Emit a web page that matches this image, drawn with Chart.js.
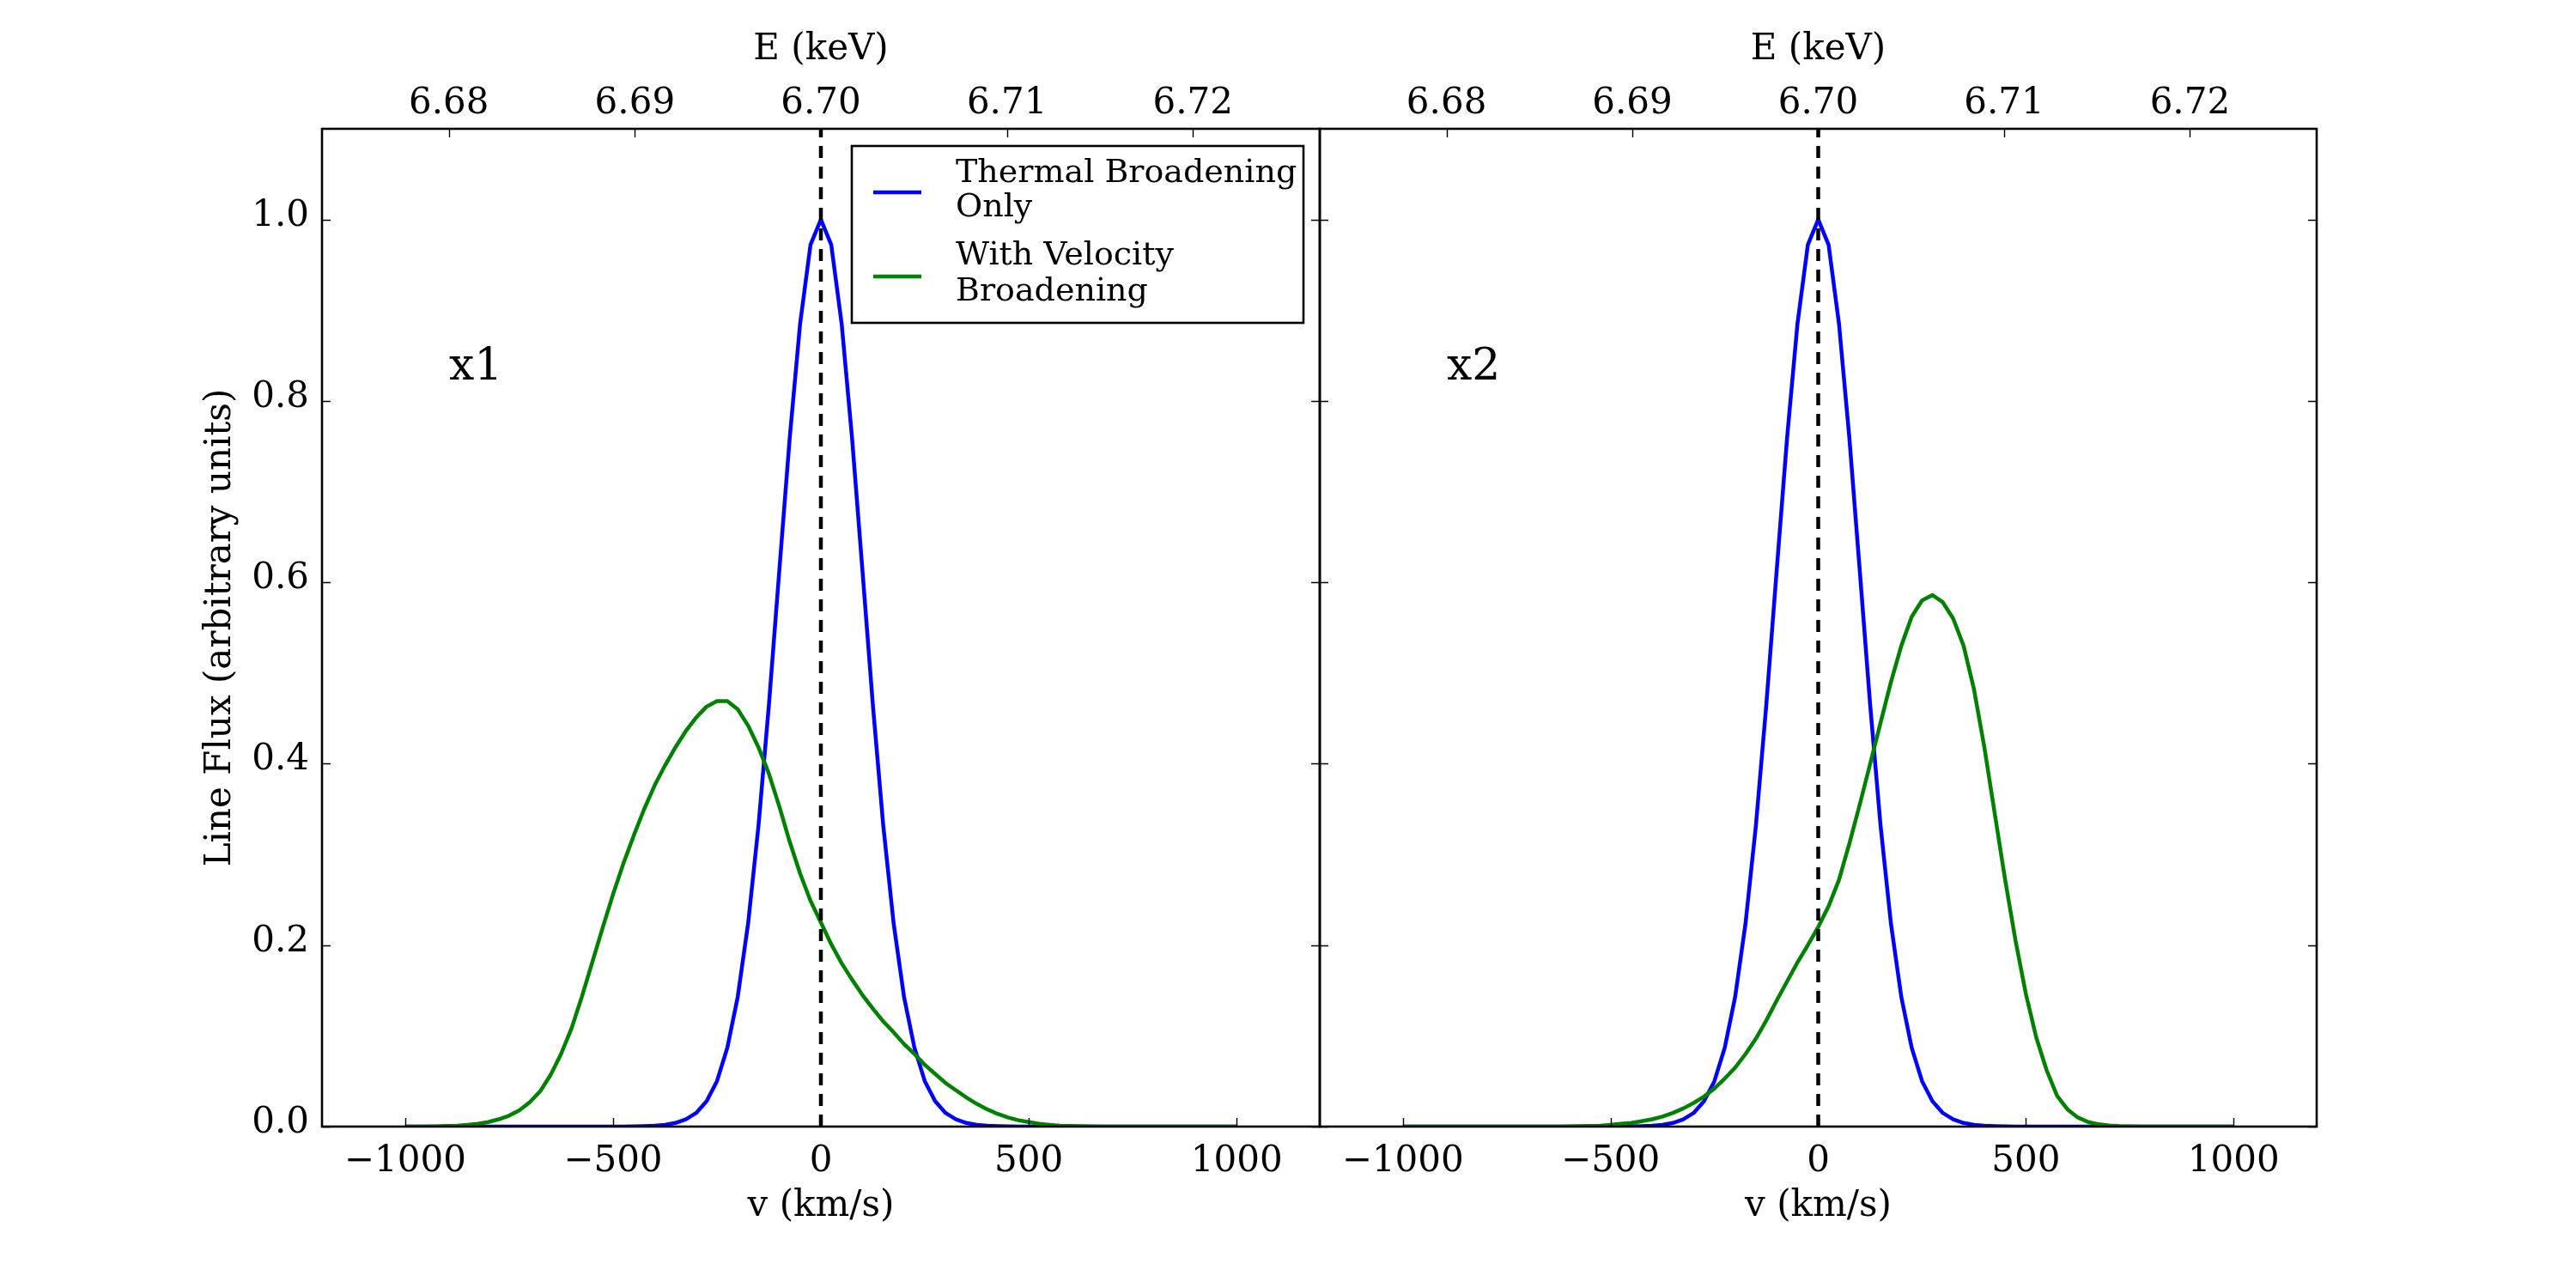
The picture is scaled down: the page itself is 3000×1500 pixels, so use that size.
<!DOCTYPE html>
<html lang="en">
<head>
  <meta charset="UTF-8">
  <title>Fe XXV line profiles - x1 / x2</title>
  <style>
    body {
      margin: 0;
      background: #fff;
    }
    .wrap {
      position: relative;
      width: 3000px;
      height: 1500px;
    }
    .wrap canvas {
      position: absolute;
      left: 0;
      top: 0;
    }
  </style>
</head>
<body>
<div class="wrap">
  <canvas id="panelX1" width="3000" height="1500"></canvas>
  <canvas id="panelX2" width="3000" height="1500"></canvas>
</div>

<script src="https://cdn.jsdelivr.net/npm/chart.js"></script>
<script>
  // velocity grid (km/s)
  const velocity = [
    -1000, -975, -950, -925, -900, -875, -850, -825, -800, -775,
    -750, -725, -700, -675, -650, -625, -600, -575, -550, -525,
    -500, -475, -450, -425, -400, -375, -350, -325, -300, -275,
    -250, -225, -200, -175, -150, -125, -100, -75, -50, -25,
    0,
    25, 50, 75, 100, 125, 150, 175, 200, 225, 250,
    275, 300, 325, 350, 375, 400, 425, 450, 475, 500,
    525, 550, 575, 600, 625, 650, 675, 700, 725, 750,
    775, 800, 825, 850, 875, 900, 925, 950, 975, 1000
  ];

  // thermal broadening only (same in both panels)
  const thermal = [
    0, 0, 0, 0, 0, 0, 0, 0, 0, 0,
    0, 0, 0, 0, 0, 0, 0, 0, 0, 0,
    0, 0, 0.0002, 0.0005, 0.001, 0.002, 0.004, 0.008, 0.015, 0.028,
    0.050, 0.087, 0.143, 0.224, 0.332, 0.465, 0.613, 0.759, 0.885, 0.972,
    1.000,
    0.972, 0.885, 0.759, 0.613, 0.465, 0.332, 0.224, 0.143, 0.087, 0.050,
    0.028, 0.015, 0.008, 0.004, 0.002, 0.001, 0.0005, 0.0002, 0, 0,
    0, 0, 0, 0, 0, 0, 0, 0, 0, 0,
    0, 0, 0, 0, 0, 0, 0, 0, 0, 0
  ];

  // with velocity broadening, panel x1
  const velocityX1 = [
    0, 0, 0, 0.0003, 0.0006, 0.001, 0.002, 0.003, 0.005, 0.008,
    0.012, 0.018, 0.027, 0.039, 0.057, 0.080, 0.108, 0.143, 0.181, 0.219,
    0.256, 0.290, 0.321, 0.350, 0.376, 0.398, 0.418, 0.436, 0.451, 0.463,
    0.469, 0.469, 0.460, 0.442, 0.418, 0.389, 0.353, 0.314, 0.279, 0.249,
    0.225,
    0.201, 0.180, 0.162, 0.145, 0.130, 0.116, 0.104, 0.091, 0.080, 0.068,
    0.058, 0.048, 0.040, 0.032, 0.025, 0.019, 0.014, 0.010, 0.007, 0.005,
    0.003, 0.002, 0.001, 0.0007, 0.0004, 0.0002, 0, 0, 0, 0,
    0, 0, 0, 0, 0, 0, 0, 0, 0, 0
  ];

  // with velocity broadening, panel x2
  const velocityX2 = [
    0, 0, 0, 0, 0, 0, 0, 0, 0, 0,
    0, 0, 0, 0, 0, 0, 0.0003, 0.0005, 0.0008, 0.001,
    0.002, 0.003, 0.004, 0.006, 0.008, 0.011, 0.015, 0.020, 0.026, 0.033,
    0.042, 0.053, 0.065, 0.080, 0.097, 0.117, 0.139, 0.160, 0.181, 0.200,
    0.220,
    0.243, 0.272, 0.312, 0.355, 0.400, 0.445, 0.490, 0.530, 0.562, 0.580,
    0.586, 0.578, 0.560, 0.530, 0.482, 0.418, 0.345, 0.272, 0.205, 0.146,
    0.098, 0.062, 0.034, 0.019, 0.010, 0.005, 0.0025, 0.0012, 0.0005, 0.0002,
    0, 0, 0, 0, 0, 0, 0, 0, 0, 0
  ];

  // dashed line at line centre
  const centreV = [0, 0];
  const centreFlux = [0, 1.1];

  const seriesNames = ['Thermal Broadening Only', 'With Velocity Broadening'];
  const legendLabels = [['Thermal Broadening', 'Only'], ['With Velocity', 'Broadening']];
  const panelNames = ['x1', 'x2'];

  const vTicks = [-1000, -500, 0, 500, 1000];
  const eTicks = [6.68, 6.69, 6.70, 6.71, 6.72];
  const fluxTicks = [0, 0.2, 0.4, 0.6, 0.8, 1.0];

  const V_MIN = -1200, V_MAX = 1200, FLUX_MAX = 1.1;
  const E0 = 6.7, C_KMS = 299792.458;

  const FONT = "'DejaVu Serif', serif";

  // inward ticks, frame, panel label and legend
  const panelPlugin = {
    id: 'panel',
    afterDraw(chart, args, o) {
      const { ctx, chartArea: a, scales } = chart;
      ctx.save();
      ctx.strokeStyle = '#000';
      ctx.lineWidth = 1.4;
      ctx.beginPath();
      vTicks.forEach(v => {
        const x = Math.round(scales.x.getPixelForValue(v)) + 0.5;
        ctx.moveTo(x, a.bottom);
        ctx.lineTo(x, a.bottom - 10);
      });
      eTicks.forEach(e => {
        const x = Math.round(scales.e.getPixelForValue(e)) + 0.5;
        ctx.moveTo(x, a.top);
        ctx.lineTo(x, a.top + 10);
      });
      fluxTicks.forEach(f => {
        const y = Math.round(scales.y.getPixelForValue(f)) + 0.5;
        ctx.moveTo(a.left, y);
        ctx.lineTo(a.left + 10, y);
        ctx.moveTo(a.right, y);
        ctx.lineTo(a.right - 10, y);
      });
      ctx.stroke();

      ctx.lineWidth = 2.6;
      ctx.strokeRect(a.left, a.top, a.right - a.left, a.bottom - a.top);

      ctx.fillStyle = '#000';
      ctx.textAlign = 'left';
      ctx.textBaseline = 'alphabetic';
      ctx.font = '52px ' + FONT;
      ctx.fillText(o.label, a.left + 148, a.top + 292);

      if (o.legend) {
        const bx = a.right - 545, by = a.top + 20, bw = 526, bh = 206;
        ctx.fillStyle = '#fff';
        ctx.fillRect(bx, by, bw, bh);
        ctx.lineWidth = 2.6;
        ctx.strokeRect(bx, by, bw, bh);
        const colors = ['#0000ff', '#008000'];
        const lineY = [54, 152];
        const textY = [[42, 82], [138, 180]];
        ctx.font = '38px ' + FONT;
        legendLabels.forEach((lines, k) => {
          ctx.strokeStyle = colors[k];
          ctx.lineWidth = 4.5;
          ctx.beginPath();
          ctx.moveTo(bx + 25, by + lineY[k]);
          ctx.lineTo(bx + 81, by + lineY[k]);
          ctx.stroke();
          ctx.fillStyle = '#000';
          lines.forEach((t, j) => ctx.fillText(t, bx + 121, by + textY[k][j]));
        });
      }
      ctx.restore();
    }
  };

  function fmtV(v) {
    return v < 0 ? '\u2212' + Math.abs(v) : String(v);
  }

  function makePanel(id, profile, label, isLeft) {
    const toPoints = (xs, ys) => xs.map((x, i) => ({ x: x, y: ys[i] }));
    const tickFont = { family: FONT, size: 42 };
    return new Chart(document.getElementById(id), {
      type: 'line',
      data: {
        datasets: [
          {
            label: 'line centre',
            data: toPoints(centreV, centreFlux),
            borderColor: '#000',
            borderWidth: 4.5,
            borderDash: [14, 10],
            pointRadius: 0
          },
          {
            label: seriesNames[1],
            data: toPoints(velocity, profile),
            borderColor: '#008000',
            borderWidth: 4.5,
            pointRadius: 0
          },
          {
            label: seriesNames[0],
            data: toPoints(velocity, thermal),
            borderColor: '#0000ff',
            borderWidth: 4.5,
            pointRadius: 0
          }
        ]
      },
      options: {
        responsive: false,
        animation: false,
        events: [],
        layout: {
          padding: isLeft
            ? { left: 0, right: 1463, top: 0, bottom: 0 }
            : { left: 1537, right: 302, top: 0, bottom: 0 }
        },
        elements: { line: { tension: 0, borderJoinStyle: 'round' } },
        plugins: {
          legend: { display: false },
          tooltip: { enabled: false },
          panel: { label: label, legend: isLeft }
        },
        scales: {
          x: {
            type: 'linear',
            position: 'bottom',
            min: V_MIN,
            max: V_MAX,
            grid: { display: false, drawTicks: false },
            border: { display: false },
            afterBuildTicks: s => { s.ticks = vTicks.map(v => ({ value: v })); },
            afterFit: s => { s.height = 188; },
            ticks: {
              autoSkip: false,
              maxRotation: 0,
              padding: 16,
              color: '#000',
              font: tickFont,
              callback: v => fmtV(v)
            },
            title: {
              display: true,
              text: 'v (km/s)',
              color: '#000',
              font: tickFont,
              padding: { top: 0, bottom: 70 }
            }
          },
          e: {
            type: 'linear',
            position: 'top',
            min: E0 * (1 + V_MIN / C_KMS),
            max: E0 * (1 + V_MAX / C_KMS),
            grid: { display: false, drawTicks: false },
            border: { display: false },
            afterBuildTicks: s => { s.ticks = eTicks.map(v => ({ value: v })); },
            afterFit: s => { s.height = 150; },
            ticks: {
              autoSkip: false,
              maxRotation: 0,
              padding: 4,
              color: '#000',
              font: tickFont,
              callback: v => v.toFixed(2)
            },
            title: {
              display: true,
              text: 'E (keV)',
              color: '#000',
              font: tickFont,
              padding: { top: 33, bottom: 0 }
            }
          },
          y: {
            type: 'linear',
            position: 'left',
            min: 0,
            max: FLUX_MAX,
            grid: { display: false, drawTicks: false },
            border: { display: false },
            afterBuildTicks: s => { s.ticks = fluxTicks.map(v => ({ value: v })); },
            afterFit: s => { s.width = isLeft ? 375 : 0; },
            ticks: {
              display: isLeft,
              autoSkip: false,
              padding: 15,
              labelOffset: -4,
              color: '#000',
              font: tickFont,
              callback: v => v.toFixed(1)
            },
            title: {
              display: isLeft,
              text: 'Line Flux (arbitrary units)',
              color: '#000',
              font: tickFont,
              padding: { top: 232, bottom: 0 }
            }
          }
        }
      },
      plugins: [panelPlugin]
    });
  }

  makePanel('panelX1', velocityX1, panelNames[0], true);
  makePanel('panelX2', velocityX2, panelNames[1], false);
</script>
</body>
</html>
